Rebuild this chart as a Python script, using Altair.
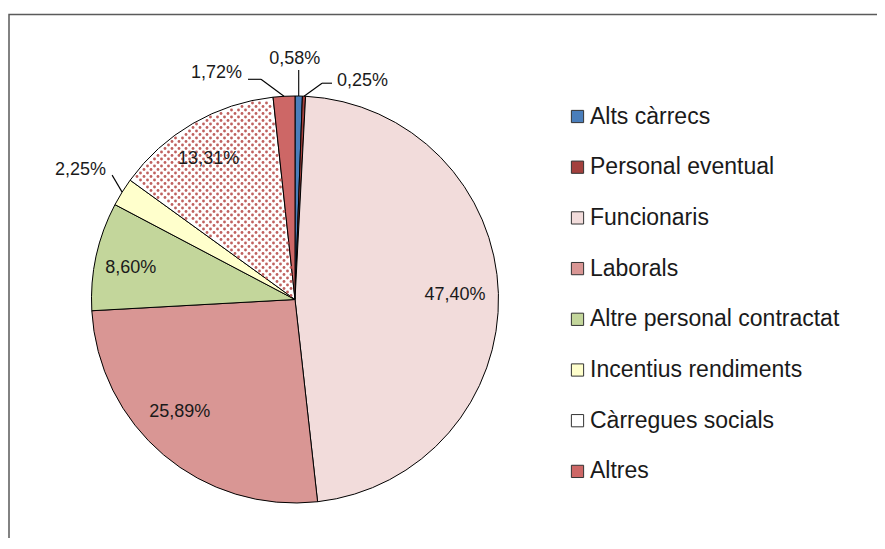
import math
import altair as alt
import pandas as pd

# ---------------- data ----------------
categories = ["Alts càrrecs", "Personal eventual", "Funcionaris", "Laborals",
              "Altre personal contractat", "Incentius rendiments",
              "Càrregues socials", "Altres"]
values = [0.58, 0.25, 47.40, 25.89, 8.60, 2.25, 13.31, 1.72]
colors = ["#4a7ebb", "#a3403d", "#f2dcdb", "#d99694",
          "#c3d69b", "#ffffcc", "#ffffff", "#cd6766"]
labels = [f"{v:.2f}".replace(".", ",") + "%" for v in values]

df = pd.DataFrame({"category": categories, "value": values,
                   "label": labels, "order": list(range(len(categories)))})

# ---------------- layout / style ----------------
W, H = 869, 530
CX, CY, R = 287, 291.5, 203.5
LABEL_R = 160
FONT = "Liberation Sans"
TXT = "#1a1a1a"

inside_nudge = {
    "Funcionaris": (0, 0),
    "Laborals": (-12, -10),
    "Altre personal contractat": (-8, 3),
    "Càrregues socials": (-6, -2),
}
outside = {
    "Alts càrrecs": dict(dx=-4, dy=-37, align="center", ex=0, ey=-26, tail=0),
    "Personal eventual": dict(dx=33, dy=-15, align="left", ex=18, ey=-13, tail=10),
    "Altres": dict(dx=-42, dy=-23, align="right", ex=-23, ey=-17, tail=-13),
    "Incentius rendiments": dict(dx=-16, dy=-22, align="right", ex=-10, ey=-17, tail=0),
}

base = alt.Chart(df).transform_joinaggregate(
    total="sum(value)"
).transform_window(
    cum="sum(value)", sort=[alt.SortField("order")], frame=[None, 0]
).transform_calculate(
    mid="(datum.cum - datum.value / 2) / datum.total * 2 * PI"
)


def xpix(f):
    return alt.X(f"{f}:Q", scale=None, axis=None)


def ypix(f):
    return alt.Y(f"{f}:Q", scale=None, axis=None)


layers = []

# frame
frame = alt.Chart(alt.sequence(0, 1, as_="i")).mark_rect(
    fillOpacity=0, stroke="#5a5a5a", strokeWidth=1.5
).encode(x=alt.value(1), y=alt.value(6.5), x2=alt.value(3000), y2=alt.value(3000))
layers.append(frame)

# pie
pie = alt.Chart(df).mark_arc(outerRadius=R, stroke="black", strokeWidth=1).encode(
    theta=alt.Theta("value:Q", stack=True),
    order=alt.Order("order:Q"),
    color=alt.Color("category:N", sort=categories,
                    scale=alt.Scale(domain=categories, range=colors),
                    legend=alt.Legend(title=None, orient="none", legendX=558, legendY=97,
                                      symbolType="square", symbolSize=150,
                                      symbolStrokeColor="#333333", symbolStrokeWidth=1,
                                      labelFont=FONT, labelFontSize=23, labelColor=TXT,
                                      labelOffset=1, rowPadding=26.7, padding=0,
                                      labelLimit=400)),
    x=alt.value(CX), y=alt.value(CY),
)
layers.append(pie)

# dotted pattern for "Càrregues socials"
total = sum(values)
k = categories.index("Càrregues socials")
a0 = sum(values[:k]) / total * 2 * math.pi
a1 = sum(values[:k + 1]) / total * 2 * math.pi
HX, VY = 7, 3.5
cols = int(R // HX) + 3
rows = int(R // VY) + 3
dots = alt.Chart(alt.sequence(0, cols * rows, as_="i")).transform_calculate(
    gx=f"datum.i % {cols}", gy=f"floor(datum.i / {cols})"
).transform_calculate(
    px=f"{CX - R} + datum.gx * {HX} + (datum.gy % 2) * {HX / 2}",
    py=f"{CY - R} + datum.gy * {VY}",
).transform_calculate(
    rr=f"sqrt(pow(datum.px - {CX}, 2) + pow(datum.py - {CY}, 2))",
    ang=f"(atan2(datum.px - {CX}, {CY} - datum.py) + 2 * PI) % (2 * PI)",
).transform_filter(
    f"datum.rr < {R - 2} && datum.rr > 3 && datum.ang > {a0 + 0.012} && datum.ang < {a1 - 0.012}"
).mark_circle(size=8, color="#b8504e", opacity=0.9).encode(
    x=xpix("px"), y=ypix("py")
)
layers.append(dots)

# inside labels
for cat, (ndx, ndy) in inside_nudge.items():
    t = base.transform_filter(alt.datum.category == cat).transform_calculate(
        px=f"{CX} + {LABEL_R} * sin(datum.mid)",
        py=f"{CY} - {LABEL_R} * cos(datum.mid)",
    ).mark_text(font=FONT, fontSize=18, color=TXT, align="center",
                baseline="middle", dx=ndx, dy=ndy).encode(
        x=xpix("px"), y=ypix("py"), text="label:N")
    layers.append(t)

# outside labels with leader lines
for cat, s in outside.items():
    b = base.transform_filter(alt.datum.category == cat).transform_calculate(
        ex=f"{CX} + {R} * sin(datum.mid)",
        ey=f"{CY} - {R} * cos(datum.mid)",
    ).transform_calculate(
        kx=f"datum.ex + {s['ex']}", ky=f"datum.ey + {s['ey']}",
    ).transform_calculate(
        tx=f"datum.kx + {s['tail']}",
    )
    layers.append(b.mark_rule(color="black", strokeWidth=1.1).encode(
        x=xpix("ex"), y=ypix("ey"), x2="kx:Q", y2="ky:Q"))
    if s["tail"] != 0:
        layers.append(b.mark_rule(color="black", strokeWidth=1.1).encode(
            x=xpix("kx"), y=ypix("ky"), x2="tx:Q", y2="ky:Q"))
    layers.append(b.mark_text(font=FONT, fontSize=18, color=TXT, align=s["align"],
                              baseline="middle", dx=s["dx"], dy=s["dy"]).encode(
        x=xpix("ex"), y=ypix("ey"), text="label:N"))

chart = alt.layer(*layers).properties(
    width=W, height=H, autosize=alt.AutoSizeParams(type="none"), padding=0
).configure_view(stroke=None)

chart.save("out.html", embed_options={"renderer": "svg", "actions": False})
